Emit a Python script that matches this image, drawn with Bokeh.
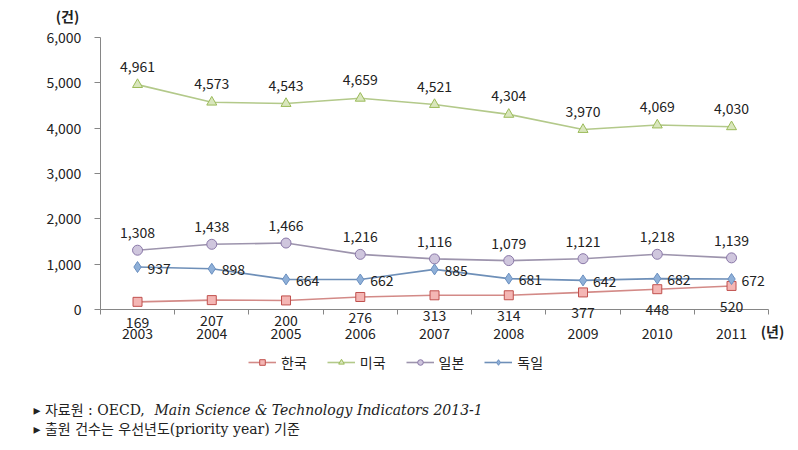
from bokeh.plotting import figure
from bokeh.models import (ColumnDataSource, FixedTicker, NumeralTickFormatter, Legend, LegendItem,
                          LabelSet, Label, Range1d)
from bokeh.core.properties import value
from bokeh.embed import file_html
from bokeh.resources import INLINE

years = ["2003", "2004", "2005", "2006", "2007", "2008", "2009", "2010", "2011"]
korea = [169, 207, 200, 276, 313, 314, 377, 448, 520]
usa = [4961, 4573, 4543, 4659, 4521, 4304, 3970, 4069, 4030]
japan = [1308, 1438, 1466, 1216, 1116, 1079, 1121, 1218, 1139]
germany = [937, 898, 664, 662, 885, 681, 642, 682, 672]
series_names = ["한국", "미국", "일본", "독일"]
y_ticks = [0, 1000, 2000, 3000, 4000, 5000, 6000]

KR = "'Noto Sans CJK KR', 'Noto Sans', sans-serif"
SERIF = "'DejaVu Serif', 'Noto Sans CJK KR', serif"
W, H = 798, 450

xs = [i + 0.5 for i in range(len(years))]
n = len(years)

# pixel layout of the plotting area inside the full-canvas frame
X0, X1 = 99.9, 768.15      # pixels of category edges 0 and n
Y0, Y6 = 309.0, 37.0       # pixels of value 0 and 6000
sx = (X1 - X0) / n
sy = (Y0 - Y6) / 6000.0

p = figure(width=W, height=H, output_backend="svg", toolbar_location=None,
           x_range=Range1d(-X0 / sx, (W - X0) / sx),
           y_range=Range1d(-(H - Y0) / sy, Y0 / sy),
           min_border=0, min_border_left=0, min_border_right=0,
           min_border_top=0, min_border_bottom=0)
p.outline_line_color = None
p.xgrid.grid_line_color = None
p.ygrid.grid_line_color = None
p.background_fill_color = "white"
p.border_fill_color = "white"

# axes, pinned at the data origin
p.xaxis.fixed_location = 0
p.xaxis.bounds = (0, n)
p.xaxis.ticker = FixedTicker(ticks=xs, minor_ticks=list(range(n + 1)))
p.xaxis.major_label_overrides = {x: y for x, y in zip(xs, years)}
p.xaxis.major_tick_out = 0
p.xaxis.major_tick_in = 0
p.xaxis.minor_tick_out = 5
p.xaxis.minor_tick_in = 0
p.xaxis.minor_tick_line_color = "#868686"
p.xaxis.axis_line_color = "#868686"
p.xaxis.major_label_standoff = 13
p.xaxis.major_label_text_font = KR
p.xaxis.major_label_text_font_size = "14px"
p.xaxis.major_label_text_color = "#222222"

p.yaxis.fixed_location = 0
p.yaxis.bounds = (0, 6000)
p.yaxis.ticker = FixedTicker(ticks=y_ticks)
p.yaxis.formatter = NumeralTickFormatter(format="0,0")
p.yaxis.major_tick_out = 6
p.yaxis.major_tick_in = 0
p.yaxis.minor_tick_line_color = None
p.yaxis.axis_line_color = "#868686"
p.yaxis.major_tick_line_color = "#868686"
p.yaxis.major_label_standoff = 13
p.yaxis.major_label_text_font = KR
p.yaxis.major_label_text_font_size = "14px"
p.yaxis.major_label_text_color = "#222222"

styles = [
    (korea, "#d38a87", "#f4b6b4", "#c0504d", "square", 9, 0, -15, "center", "top"),
    (usa, "#b3c98a", "#d9e6bd", "#9bbb59", "triangle", 10, 0, 13, "center", "bottom"),
    (japan, "#9d94ad", "#cfc6dd", "#8a78a8", "circle", 10, 0, 12, "center", "bottom"),
    (germany, "#6e8fb8", "#8fb0d8", "#6a8fc0", "diamond", 11, 10, -1, "left", "middle"),
]

items = []
for name, (vals, lc, fc, mc, mk, sz, xo, yo, ta, tb) in zip(series_names, styles):
    src = ColumnDataSource(dict(x=xs, y=vals, t=[f"{v:,}" for v in vals]))
    r1 = p.line("x", "y", source=src, line_color=lc, line_width=1.6)
    r2 = p.scatter("x", "y", source=src, marker=mk, size=sz, fill_color=fc,
                   line_color=mc, line_width=1)
    items.append(LegendItem(label=name, renderers=[r1, r2]))
    ls = LabelSet(x="x", y="y", text="t", source=src, x_offset=xo, y_offset=yo,
                  text_align=ta, text_baseline=tb, text_font=value(KR),
                  text_font_size=value("14px"), text_color="#222222")
    p.add_layout(ls)

legend = Legend(items=items, orientation="horizontal", location=(248, H - 372),
                label_text_font=KR, label_text_font_size="14px", label_text_color="#222222",
                glyph_width=28, glyph_height=14, spacing=20, label_standoff=5,
                border_line_color=None, background_fill_alpha=0, padding=0, margin=0)
p.add_layout(legend, "center")

def lab(px, py, text, font=KR, style="normal", align="center", size="14px"):
    p.add_layout(Label(x=px, y=H - py, x_units="screen", y_units="screen", text=text,
                       text_font=font, text_font_size=size, text_font_style=style,
                       text_align=align, text_baseline="middle", text_color="#222222"))

lab(67, 15, "(건)", style="bold")
lab(772, 330, "(년)", style="bold")
lab(33, 409, "▸ 자료원 : OECD, ", font=SERIF, align="left", size="14px")
lab(154, 409, "Main Science & Technology Indicators 2013-1", font=SERIF, style="italic",
    align="left", size="14px")
lab(33, 428, "▸ 출원 건수는 우선년도(priority year) 기준", font=SERIF, align="left", size="14px")

open("out.html", "w").write(file_html(p, INLINE))
